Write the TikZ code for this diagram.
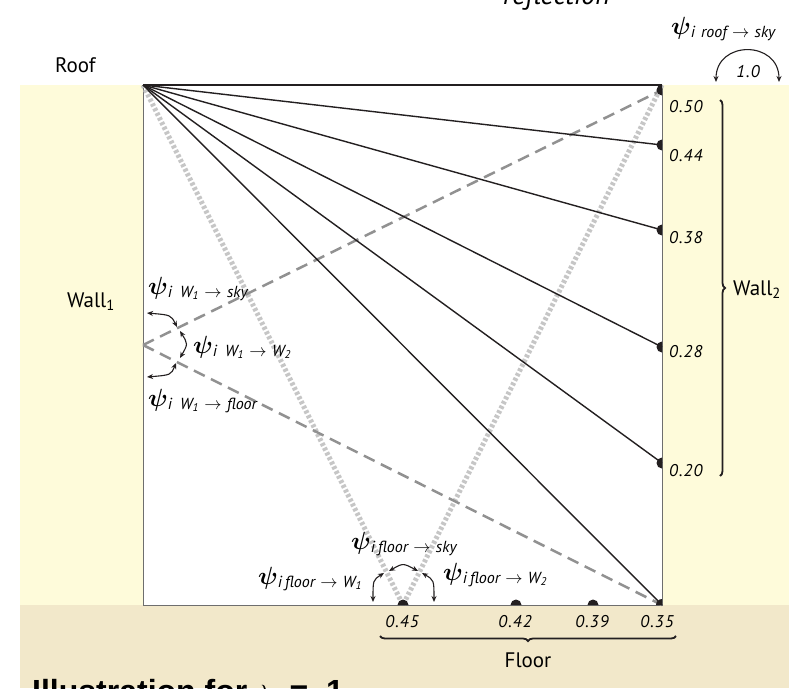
\documentclass[tikz,border=0pt]{standalone}
\usepackage{amsmath}
\usepackage{fontspec}
\setmainfont{PT Sans}
\newfontfamily\titlefont{Liberation Sans}
\newfontfamily\numfont[LetterSpace=6]{PT Sans}
\usetikzlibrary{arrows.meta,decorations.pathreplacing}
\definecolor{wallyellow}{RGB}{254,251,218}
\definecolor{floorbeige}{RGB}{242,232,202}
\definecolor{raycol}{RGB}{35,31,32}
\definecolor{dashcol}{RGB}{145,145,145}
\definecolor{dotcol}{RGB}{198,198,198}
\definecolor{wallline}{RGB}{110,110,110}
\newcommand\psilabel[1]{{\fontsize{32}{32}\selectfont$\boldsymbol{\psi}$}\raisebox{-3pt}{\fontsize{16}{16}\selectfont\itshape #1}}
\newcommand\arr{\,\,$\rightarrow$\,\,}
\begin{document}
\begin{tikzpicture}[x=1pt,y=-1pt,
  ray/.style={draw=raycol,line width=1.4pt},
  dashray/.style={draw=dashcol,line width=2.5pt,dash pattern=on 12pt off 7pt},
  dotray/.style={draw=dotcol,line width=5pt,dash pattern=on 3pt off 2.2pt},
  angarrow/.style={line width=1.1pt,draw=raycol,{Stealth[length=6pt,width=5pt]}-{Stealth[length=6pt,width=5pt]}},
  hit/.style={fill=raycol},
  numlab/.style={font=\numfont\itshape\fontsize{17}{17}\selectfont,inner sep=0pt},
  surflab/.style={font=\fontsize{21}{21}\selectfont,inner sep=0pt},
  psilab/.style={inner sep=0pt,anchor=base west},
  wallbrace/.style={decorate,decoration={brace,amplitude=5pt},line width=1.8pt,draw=raycol}
]
\useasboundingbox (0,0) rectangle (789,688);
\fill[white] (0,0) rectangle (789,688);
% geometry
\coordinate (S) at (143,85);
\coordinate (RT) at (662,85);
\coordinate (FL) at (143,605);
\coordinate (FR) at (662,605);
\coordinate (W1) at (143,345);
\coordinate (a50) at (662,90);
\coordinate (a44) at (662,145);
\coordinate (a38) at (662,230);
\coordinate (a28) at (662,347);
\coordinate (a20) at (662,463);
\coordinate (f45) at (403,605);
\coordinate (f42) at (516,605);
\coordinate (f39) at (593,605);
% panels
\fill[wallyellow] (20,85) rectangle (143,605);
\fill[wallyellow] (662,85) rectangle (789,605);
\fill[floorbeige] (20,605) rectangle (789,688);
% room outline
\draw[wallline,line width=1pt] (S) -- (FL) -- (FR) -- (RT);
% dotted floor rays
\draw[dotray] (S) -- (f45) -- (RT);
% dashed wall rays
\draw[dashray] (W1) -- (a50);
\draw[dashray] (W1) -- (FR);
% solid roof rays
\foreach \p in {a44,a38,a28,a20,FR} \draw[ray] (S) -- (\p);
\draw[raycol,line width=2.5pt] (S) -- (RT);
% hit points: half discs inside the room
\foreach \p in {a50,a44,a38,a28,a20} \fill[hit] (\p) ++(0,5.5) arc[start angle=90,end angle=270,radius=5.5] -- cycle;
\foreach \p in {f45,f42,f39} \fill[hit] (\p) ++(-5.5,0) arc[start angle=180,end angle=360,radius=5.5] -- cycle;
\fill[hit] (FR) -- ++(-6,0) arc[start angle=180,end angle=270,radius=6] -- cycle;
% angle arcs, wall 1
\coordinate (w1a) at (147,313); \coordinate (w1b) at (177,327);
\coordinate (w1c) at (180,331); \coordinate (w1d) at (180,358);
\coordinate (w1e) at (176,363); \coordinate (w1f) at (147,377);
\draw[angarrow] (w1a) .. controls (171,315) .. (w1b);
\draw[angarrow] (w1c) .. controls (188,344) .. (w1d);
\draw[angarrow] (w1e) .. controls (171,375) .. (w1f);
% angle arcs, floor
\coordinate (fa) at (373,602); \coordinate (fb) at (384,573);
\coordinate (fc) at (389,571); \coordinate (fd) at (418,571);
\coordinate (fe) at (422,573); \coordinate (ff) at (434,602);
\draw[angarrow] (fa) .. controls (373,580) .. (fb);
\draw[angarrow] (fc) .. controls (403,563) .. (fd);
\draw[angarrow] (fe) .. controls (434,580) .. (ff);
% roof arc
\coordinate (ra) at (716,82); \coordinate (rb) at (779,82);
\draw[angarrow] (ra) .. controls (716,40) and (779,40) .. (rb);
\node[numlab] (one) at (748,72) {1.0};
% psi labels
\node[psilab] (proof) at (671,34) {\psilabel{i\hspace{6pt}roof\arr sky}};
\node[psilab] (pw1sky) at (148,294) {\psilabel{i\hspace{8pt}W\textsubscript{1}\arr sky}};
\node[psilab] (pw1w2) at (193,353) {\psilabel{i\hspace{8pt}W\textsubscript{1}\arr W\textsubscript{2}}};
\node[psilab] (pw1fl) at (148,406) {\psilabel{i\hspace{8pt}W\textsubscript{1}\arr floor}};
\node[psilab] (pflsky) at (351,549) {\psilabel{i\hspace{3pt}floor\arr sky}};
\node[psilab] (pflw1) at (258,584) {\psilabel{i\hspace{3pt}floor\arr W\textsubscript{1}}};
\node[psilab] (pflw2) at (443,580) {\psilabel{i\hspace{3pt}floor\arr W\textsubscript{2}}};
% wall 2 values
\node[numlab,anchor=west] (n50) at (669,107) {0.50};
\node[numlab,anchor=west] (n44) at (669,156) {0.44};
\node[numlab,anchor=west] (n38) at (669,238) {0.38};
\node[numlab,anchor=west] (n28) at (669,352) {0.28};
\node[numlab,anchor=west] (n20) at (669,471) {0.20};
% floor values
\node[numlab] (m45) at (402,622) {0.45};
\node[numlab] (m42) at (515,622) {0.42};
\node[numlab] (m39) at (592,622) {0.39};
\node[numlab] (m35) at (657,622) {0.35};
% braces
\coordinate (b2top) at (720,100); \coordinate (b2bot) at (720,476);
\draw[wallbrace] (b2top) -- (b2bot);
\coordinate (bfr) at (676,636); \coordinate (bfl) at (380,636);
\draw[wallbrace] (bfr) -- (bfl);
% surface names
\node[surflab,anchor=base west] (roof) at (55,72) {Roof};
\node[surflab,anchor=base east] (wall1) at (115,307) {Wall\textsubscript{1}};
\node[surflab,anchor=base west] (wall2) at (733,295) {Wall\textsubscript{2}};
\node[surflab,anchor=base] (floor) at (528,667) {Floor};
% cut-off texts
\node[inner sep=0pt,anchor=base west,font=\itshape\fontsize{28}{28}\selectfont] (refl) at (503,5) {reflection};
\node[inner sep=0pt,anchor=base west,font=\titlefont\bfseries\fontsize{32}{32}\selectfont] (title) at (32,702) {Illustration for\hspace{10pt}$\lambda$\hspace{18pt}=\hspace{18pt}1};
\end{tikzpicture}
\end{document}
